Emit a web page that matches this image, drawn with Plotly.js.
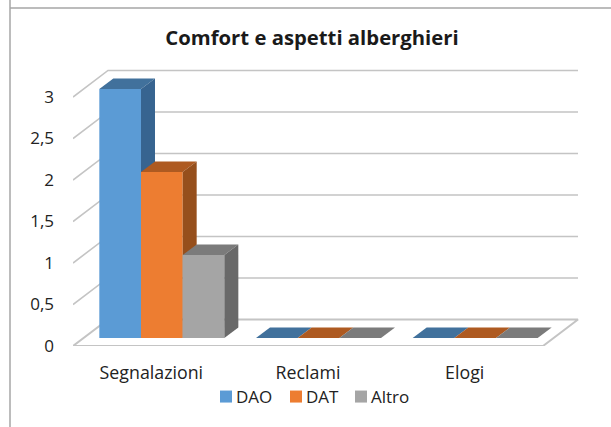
<!DOCTYPE html>
<html>
<head>
<meta charset="utf-8">
<script src="https://cdn.plot.ly/plotly-3.0.1.min.js"></script>
<style>html,body{margin:0;padding:0;background:#fff;overflow:hidden}</style>
</head>
<body>
<div id="chart" style="width:611px;height:427px"></div>
<script>
var categories = ["Segnalazioni", "Reclami", "Elogi"];
var seriesNames = ["DAO", "DAT", "Altro"];
var dao = [3, 0, 0];
var dat = [2, 0, 0];
var altro = [1, 0, 0];
var yTicks = [0, 0.5, 1, 1.5, 2, 2.5, 3];
var yLabels = ["0", "0,5", "1", "1,5", "2", "2,5", "3"];
var frontColors = ["#5B9BD5", "#ED7D31", "#A5A5A5"];
var topColors = ["#41719C", "#AE5A21", "#7B7B7B"];
var sideColors = ["#376490", "#964F1C", "#696969"];

var Dx = 0.2234, Dy = 0.32;      // oblique projection of the full floor depth
var barW = 0.266, d0 = 0.3, d1 = 0.7;
var xR = [-0.5, 2.934], yR = [0, 4.169];
var gridColor = "#c4c4c4";
var font = "'Open Sans', Lato, sans-serif";
var textColor = "#222222";

function P(x, v, d) { return [x + d * Dx, v + d * Dy]; }
function poly(pts, color, ax) {
  return {type: "scatter", mode: "none", fill: "toself", fillcolor: color,
    x: pts.map(function (p) { return p[0]; }), y: pts.map(function (p) { return p[1]; }),
    xaxis: ax[0], yaxis: ax[1], showlegend: false, hoverinfo: "skip", cliponaxis: false};
}
function line(pts, width) {
  return {type: "scatter", mode: "lines", line: {color: gridColor, width: width},
    x: pts.map(function (p) { return p[0]; }), y: pts.map(function (p) { return p[1]; }),
    showlegend: false, hoverinfo: "skip", cliponaxis: false};
}

var traces = [];
var xL = xR[0], xE = 2.5;
// floor
traces.push(line([P(xL, 0, 0), P(xE, 0, 0), P(xE, 0, 1), P(xL, 0, 1), P(xL, 0, 0)], 2));
// walls
yTicks.forEach(function (t) {
  if (t > 0) traces.push(line([P(xL, t, 0), P(xL, t, 1), P(xE, t, 1)], 1.6));
});

var series = [dao, dat, altro];
var axes = [["x2", "y2"], ["x3", "y3"], ["x4", "y4"]];
series.forEach(function (vals, s) {
  var off = (s - 1) * barW, ax = axes[s];
  traces.push({type: "bar", name: seriesNames[s], xaxis: ax[0], yaxis: ax[1],
    x: categories.map(function (c, i) { return i + off + d0 * Dx; }),
    y: vals, base: vals.map(function () { return d0 * Dy; }),
    width: barW, marker: {color: frontColors[s], line: {width: 0}}, hoverinfo: "y"});
  vals.forEach(function (v, i) {
    var a = i + off - barW / 2, b = i + off + barW / 2;
    traces.push(poly([P(a, v, d0), P(b, v, d0), P(b, v, d1), P(a, v, d1), P(a, v, d0)], topColors[s], ax));
    if (v > 0) traces.push(poly([P(b, 0, d0), P(b, 0, d1), P(b, v, d1), P(b, v, d0), P(b, 0, d0)], sideColors[s], ax));
  });
});

var hidden = {range: xR, visible: false, fixedrange: true};
var hiddenY = {range: yR, visible: false, fixedrange: true};
var frameColor = "#a6a6a6";
var layout = {
  width: 611, height: 427,
  margin: {l: 73, r: 0, t: 0, b: 81, pad: 0},
  paper_bgcolor: "#fff", plot_bgcolor: "rgba(0,0,0,0)",
  barmode: "overlay",
  font: {family: font, color: textColor},
  title: {text: "<b>Comfort e aspetti alberghieri</b>", font: {family: font, size: 20.3, color: "#1a1a1a"},
    x: (312 - 73) / 538, xanchor: "center", y: 1 - 38 / 427, yanchor: "middle", xref: "paper"},
  xaxis: {range: xR, tickmode: "array", tickvals: [0, 1, 2], ticktext: categories, showgrid: false, zeroline: false,
    showline: false, ticks: "", ticklabelstandoff: 14, tickfont: {family: font, size: 17.8, color: textColor}, fixedrange: true},
  yaxis: {range: yR, tickmode: "array", tickvals: yTicks, ticktext: yLabels, showgrid: false, zeroline: false,
    showline: false, ticks: "", ticklabelstandoff: 18, tickfont: {family: font, size: 17, color: textColor}, fixedrange: true},
  xaxis2: Object.assign({overlaying: "x"}, hidden),
  xaxis3: Object.assign({overlaying: "x"}, hidden),
  xaxis4: Object.assign({overlaying: "x"}, hidden),
  yaxis2: Object.assign({overlaying: "y"}, hiddenY),
  yaxis3: Object.assign({overlaying: "y"}, hiddenY),
  yaxis4: Object.assign({overlaying: "y"}, hiddenY),
  showlegend: true,
  legend: {orientation: "h", x: (210 - 73) / 538, xanchor: "left", y: -(397 - 346) / 346, yanchor: "middle",
    font: {family: font, size: 17, color: textColor}, bgcolor: "rgba(0,0,0,0)", itemclick: false, itemdoubleclick: false},
  shapes: [
    {type: "line", xref: "paper", yref: "paper", x0: (10 - 73) / 538, x1: (10 - 73) / 538, y0: -81 / 346, y1: 1, line: {color: frameColor, width: 1.5}},
    {type: "line", xref: "paper", yref: "paper", x0: (10 - 73) / 538, x1: 1, y0: 1 - 8 / 346, y1: 1 - 8 / 346, line: {color: frameColor, width: 1.5}}
  ]
};
Plotly.newPlot("chart", traces, layout, {displayModeBar: false}).then(function () {
  // tighten legend: Excel places the text just after the swatch
  var items = document.querySelectorAll(".legend .traces");
  var xs = [-4, 66, 131];
  items.forEach(function (g, i) {
    var m = /translate\(([^,]+),\s*([^)]+)\)/.exec(g.getAttribute("transform")) || [0, 0, 0];
    g.setAttribute("transform", "translate(" + xs[i] + "," + m[2] + ")");
    var t = g.querySelector(".legendtext");
    if (t) t.setAttribute("x", 30);
  });
});
</script>
</body>
</html>
